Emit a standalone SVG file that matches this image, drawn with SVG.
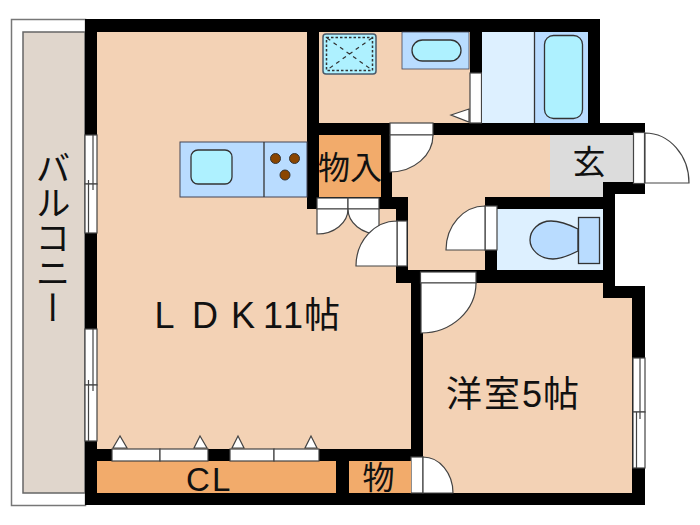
<svg xmlns="http://www.w3.org/2000/svg" width="700" height="525" viewBox="0 0 700 525">
<style>
text{font-family:"Liberation Sans","Noto Sans CJK JP",sans-serif;fill:#111}
.jp{font-family:"Noto Sans CJK JP","Noto Sans",sans-serif}
.w{fill:#000}
.floor{fill:#f3d2b5}
.org{fill:#f2ab6b}
.d{fill:#fff;stroke:#444;stroke-width:1.2}
.ln{fill:none;stroke:#444;stroke-width:1.2}
.fx{stroke:#333;stroke-width:1.3}
</style>
<rect width="700" height="525" fill="#fff"/>
<g id="balcony">
<rect x="11.500" y="19.500" width="74" height="486" fill="#fff" stroke="#777" stroke-width="1.500"/>
<rect x="23" y="32" width="62" height="461" fill="#e0d6cc" stroke="#666" stroke-width="1.500"/>
<text class="jp" x="53" y="150" font-size="35" style="writing-mode:vertical-rl">バルコニー</text>
</g>
<g id="walls">
<path class="w" d="M85 19H600V123H645V194H615V286H645V505H85Z"/>
</g>
<g id="ldk">
<path class="floor" d="M97 32H307V209H396V283H411V449H97Z"/>
<text y="328" font-size="36" x="154.500 192 231 263 283 304">LDK11帖</text>
</g>
<g id="kitchen">
<rect class="floor" x="319" y="32" width="151" height="91"/>
<rect x="323" y="34" width="53" height="40" rx="3" fill="#aef1ff" stroke="#4a5a6a" stroke-width="1.500"/>
<rect x="326.500" y="37.500" width="46" height="33" fill="none" stroke="#333" stroke-width="1.500" stroke-dasharray="2.500 2"/>
<path d="M327 38L372 70M372 38L327 70" fill="none" stroke="#333" stroke-width="1.200" stroke-dasharray="4 4"/>
<rect x="402" y="32" width="67" height="37" fill="#b9dcff" stroke="#445" stroke-width=".8"/>
<rect x="412" y="40" width="49" height="21" rx="10.500" fill="#aef1ff" stroke="#333" stroke-width="1.300"/>
<rect x="470" y="73" width="11.500" height="50" class="d"/>
<path d="M451 115L469 109V122Z" class="d"/>
</g>
<g id="bath">
<rect x="482" y="32" width="52" height="91" fill="#ddf0ff"/>
<rect x="535" y="32" width="53" height="91" fill="#b9dcff"/>
<path d="M534.500 32V123" class="fx" fill="none"/>
<rect x="544.500" y="35.500" width="38" height="83" rx="9" fill="#aef1ff" stroke="#333" stroke-width="1.300"/>
</g>
<g id="hall">
<path class="floor" d="M392 135H550V197H485V270H408V197H392Z"/>
</g>
<g id="entrance">
<path fill="#dcdcdc" d="M550 135H633V182H603V197H550Z"/>
<text class="jp" x="589" y="174" font-size="33" text-anchor="middle">玄</text>
<rect x="633.500" y="132.500" width="11" height="51" class="d"/>
<path class="d" d="M645 133A44 50 0 0 1 689 183H645Z"/>
</g>
<g id="counter">
<rect x="180" y="142" width="127" height="55" fill="#b9dcff" stroke="#445" stroke-width="1"/>
<path d="M264 142V197" class="fx" fill="none"/>
<rect x="191" y="150" width="41" height="34" rx="7" fill="#aef1ff" stroke="#333" stroke-width="1.300"/>
<circle cx="275.500" cy="158.500" r="5" fill="#8a4500" stroke="#333"/>
<circle cx="294.500" cy="158.500" r="5" fill="#8a4500" stroke="#333"/>
<circle cx="285" cy="175" r="5" fill="#8a4500" stroke="#333"/>
</g>
<g id="closet">
<rect class="org" x="319" y="135" width="62" height="62"/>
<text class="jp" y="179" font-size="32" x="318 350">物入</text>
<rect x="317" y="198" width="31" height="11" class="d"/>
<rect x="348" y="198" width="31" height="11" class="d"/>
<path class="d" d="M317 209H348A31 25 0 0 1 317 234Z"/>
<path class="d" d="M379 209H348A31 25 0 0 0 379 234Z"/>
</g>
<g id="door-ldk">
<rect x="397" y="221" width="10" height="45" class="d"/>
<path class="d" d="M397 221A41 45 0 0 0 356 266H397Z"/>
</g>
<g id="door-kitchen">
<rect x="390" y="123" width="43" height="12" class="d"/>
<path class="d" d="M433 135A43 37 0 0 1 390 172V135Z"/>
</g>
<g id="toilet">
<rect x="497" y="209" width="106" height="61" fill="#ddf0ff"/>
<path d="M578 229C568 224 560 221 551 221C539 221 530 230 530 240C530 249 539 259 553 259C562 259 570 255 578 251Z" fill="#b9dcff" stroke="#333" stroke-width="1.300"/>
<rect x="578.500" y="217.500" width="21" height="46" fill="#b9dcff" stroke="#333" stroke-width="1.300"/>
<rect x="485" y="206" width="12" height="44" class="d"/>
<path class="d" d="M485 206A39 44 0 0 0 446 250H485Z"/>
</g>
<g id="western">
<path class="floor" d="M423 283H603V298H632V493H423Z"/>
<text y="407" font-size="36" x="446 484 522 543">洋室5帖</text>
<rect x="420.500" y="272" width="55.500" height="11" class="d"/>
<path class="d" d="M476 283A55 50 0 0 1 421 333V283Z"/>
<rect x="633" y="358" width="12" height="54" class="d"/>
<rect x="633" y="412" width="12" height="56" class="d"/>
<path class="ln" d="M636.500 412V468M640 358V419"/>
<rect x="411" y="457" width="12" height="36" class="d"/>
<path class="d" d="M423 457A30 36 0 0 1 453 493H423Z"/>
</g>
<g id="cl">
<rect class="org" x="97" y="461" width="239" height="32"/>
<text y="491" font-size="33" x="186 212">CL</text>
<rect x="112" y="449" width="48" height="12" class="d"/>
<rect x="160" y="449" width="48" height="12" class="d"/>
<rect x="230" y="449" width="44" height="12" class="d"/>
<rect x="274" y="449" width="45" height="12" class="d"/>
<path class="d" d="M120 436L113 448H127Z"/>
<path class="d" d="M200 436L194 448H207Z"/>
<path class="d" d="M238 436L232 448H244Z"/>
<path class="d" d="M311 436L305 448H317Z"/>
</g>
<g id="storage">
<rect class="org" x="349" y="461" width="62" height="32"/>
<text class="jp" x="378.500" y="489" font-size="32" text-anchor="middle">物</text>
</g>
<g id="windows">
<rect x="85" y="135" width="12" height="49" class="d"/>
<rect x="85" y="184" width="12" height="49" class="d"/>
<path class="ln" d="M93 135V190M88.500 180V233"/>
<rect x="85" y="329" width="12" height="56" class="d"/>
<rect x="85" y="385" width="12" height="56" class="d"/>
<path class="ln" d="M93 329V391M88.500 380V441"/>
</g>
</svg>
